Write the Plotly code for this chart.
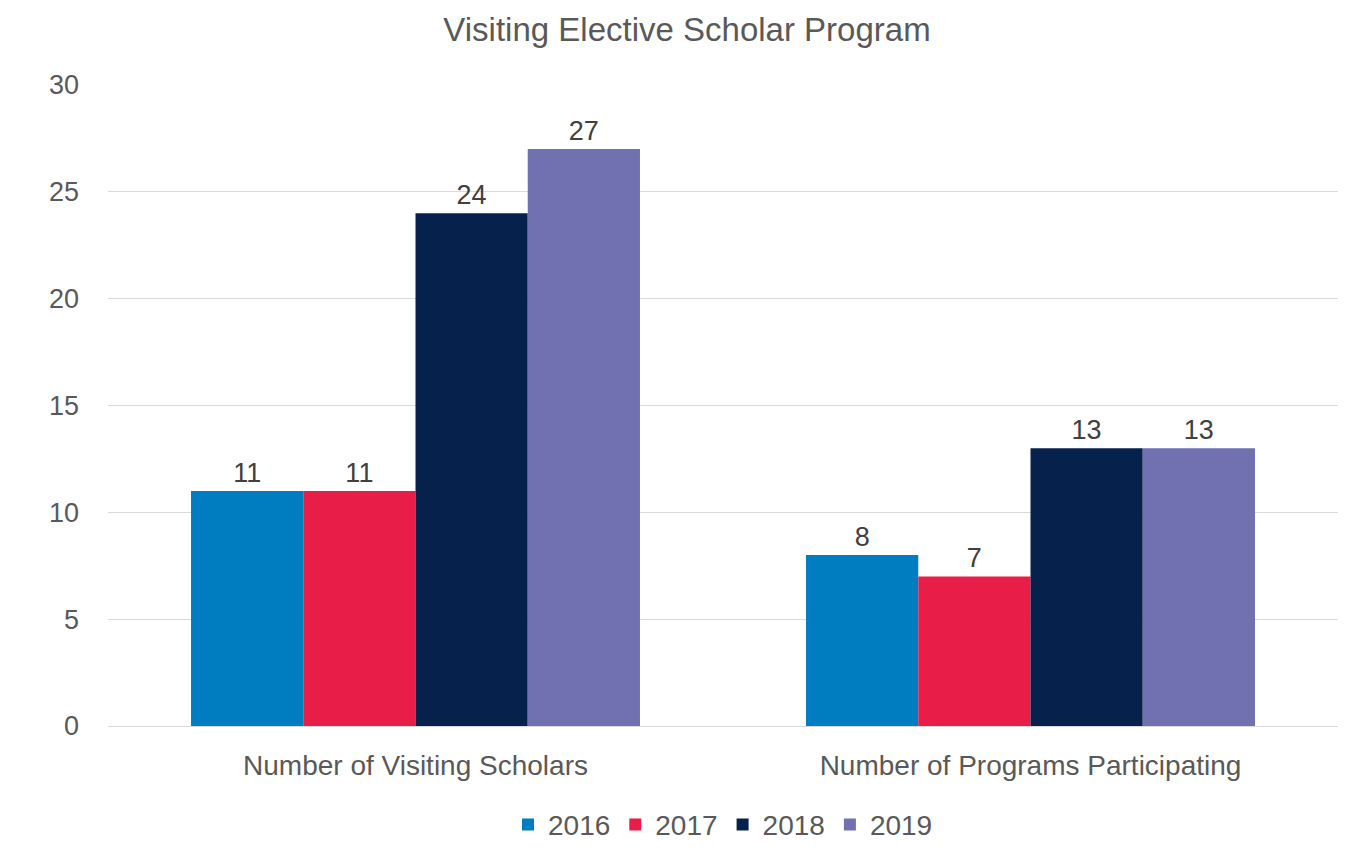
import plotly.graph_objects as go

categories = ["Number of Visiting Scholars", "Number of Programs Participating"]
years = ["2016", "2017", "2018", "2019"]
values = {
    "2016": [11, 8],
    "2017": [11, 7],
    "2018": [24, 13],
    "2019": [27, 13],
}
colors = {"2016": "#007DC1", "2017": "#E91E48", "2018": "#06214B", "2019": "#7170B0"}

fig = go.Figure()
for y in years:
    fig.add_trace(go.Bar(
        x=categories, y=values[y], name=y, marker_color=colors[y],
        marker_line_width=0,
        text=values[y], textposition="outside", cliponaxis=False,
        textfont=dict(size=27, color="#404040"),
    ))

fig.update_layout(
    width=1358, height=854,
    title=dict(text="Visiting Elective Scholar Program", x=0.5, xanchor="center",
               y=0.975, yanchor="middle",
               font=dict(size=33, color="#595959")),
    font=dict(family="Liberation Sans, Arial, sans-serif", color="#595959", size=27),
    barmode="group", bargap=0.27, bargroupgap=0,
    plot_bgcolor="white", paper_bgcolor="white",
    margin=dict(l=100, r=28, t=77, b=121),
    legend=dict(orientation="h", x=0.5, xanchor="center", y=-0.115, yanchor="top",
                font=dict(size=28, color="#595959")),
    yaxis=dict(range=[0, 30], dtick=5, gridcolor="#D9D9D9", zeroline=False,
               ticks="", tickfont=dict(size=27), ticklabelstandoff=28),
    xaxis=dict(showline=True, linecolor="#D9D9D9", tickfont=dict(size=28),
               ticklabelstandoff=14),
)
fig.write_html("out.html")
